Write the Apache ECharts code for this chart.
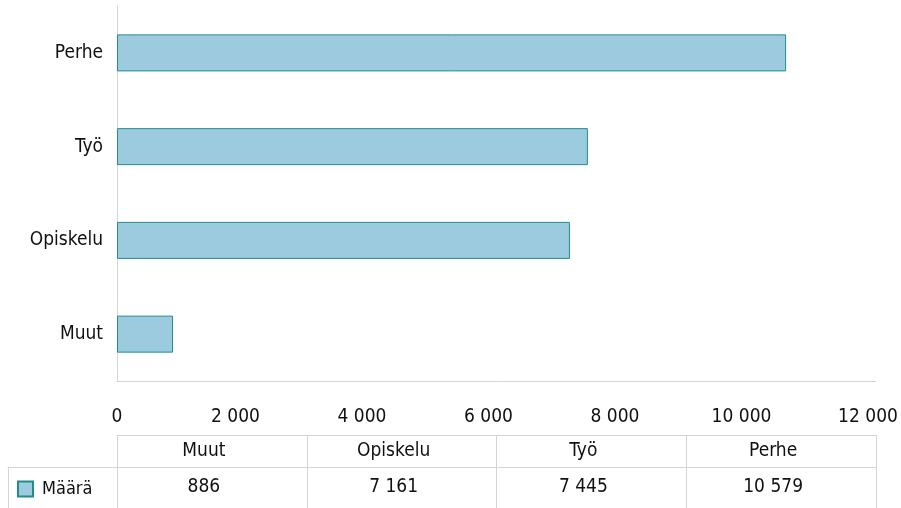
<!DOCTYPE html>
<html>
<head>
<meta charset="utf-8">
<script src="https://cdn.jsdelivr.net/npm/echarts@6/dist/echarts.min.js"></script>
<style>
html, body {margin:0; padding:0; background:#fff;}
#chart {width:901px; height:508px;}
</style>
</head>
<body>
<div id="chart"></div>
<script>
// data
var categories = ['Muut', 'Opiskelu', 'Työ', 'Perhe'];
var counts = [886, 7161, 7445, 10579];
var seriesName = 'Määrä';
var xMin = 0;
var xMax = 12000;
var xStep = 2000;

var FONT = "'DejaVu Sans Condensed', 'Liberation Sans Narrow', sans-serif";
var FS = 19;
var LINE = '#d4d4d4';
var TXT = '#111';

//thousands with a space: 10579 -> "10 579"
function fmt(v){
	return String(v).replace(/\B(?=(\d{3})+(?!\d))/g, ' ');
}
// small shift to the left, like the original labels
var richShift = {
	s: {padding: [0, 16, 0, 0], fontSize: FS, fontFamily: FONT, color: TXT}
};

var chart = echarts.init(document.getElementById('chart'));

var option = {
	animation: false,
	backgroundColor: '#fff',
	textStyle: {fontFamily: FONT},
	legend: {
		data: [seriesName],
		left: 17,
		top: 480,
		padding: 0,
		icon: 'rect',
		itemWidth: 15,
		itemHeight: 15,
		itemGap: 5,
		selectedMode: false,
		textStyle: {fontSize: 18, fontFamily: FONT, color: TXT, padding: [0, 0, 0, 4]}
	},
	grid: [
		{left: 117, right: 25, top: 6, height: 375, outerBoundsMode: 'none', containLabel: false},  //bars
		{left: 117, right: 25, top: 435, height: 32, outerBoundsMode: 'none', containLabel: false},  //table header
		{left: 117, right: 25, top: 467, height: 80, outerBoundsMode: 'none', containLabel: false},  //table values
		{left: 8, width: 109, top: 467, height: 80, outerBoundsMode: 'none', containLabel: false}    //legend cell
	],
	xAxis: [
		{
			gridIndex: 0,
			type: 'value',
			min: xMin,
			max: xMax,
			interval: xStep,
			axisLine: {show: true, onZero: false, lineStyle: {color: LINE, width: 1}},
			axisTick: {show: false},
			splitLine: {show: false},
			axisLabel: {
				margin: 27,
				fontSize: FS,
				fontFamily: FONT,
				color: TXT,
				formatter: function(v){
					return v === 0 ? '0' : '{s|' + fmt(v) + '}';
				},
				rich: richShift
			}
		},
		{
			gridIndex: 1,
			type: 'category',
			data: categories,
			position: 'top',
			boundaryGap: true,
			axisLine: {show: true, onZero: false, lineStyle: {color: LINE, width: 1}},
			axisTick: {show: false},
			splitLine: {show: true, lineStyle: {color: LINE, width: 1}},
			axisLabel: {
				inside: true,
				margin: 7,
				interval: 0,
				fontSize: FS,
				fontFamily: FONT,
				color: TXT,
				formatter: function(v){ return '{s|' + v + '}'; },
				rich: richShift
			}
		},
		{
			gridIndex: 2,
			type: 'category',
			data: categories,
			position: 'top',
			boundaryGap: true,
			axisLine: {show: true, onZero: false, lineStyle: {color: LINE, width: 1}},
			axisTick: {show: false},
			splitLine: {show: true, lineStyle: {color: LINE, width: 1}},
			axisLabel: {
				inside: true,
				margin: 11,
				interval: 0,
				fontSize: FS,
				fontFamily: FONT,
				color: TXT,
				formatter: function(v, i){ return '{s|' + fmt(counts[i]) + '}'; },
				rich: richShift
			}
		},
		{
			gridIndex: 3,
			type: 'value',
			position: 'top',
			min: 0,
			max: 1,
			axisLine: {show: true, onZero: false, lineStyle: {color: LINE, width: 1}},
			axisTick: {show: false},
			axisLabel: {show: false},
			splitLine: {show: false}
		}
	],
	yAxis: [
		{
			gridIndex: 0,
			type: 'category',
			data: categories,
			axisLine: {show: true, onZero: false, lineStyle: {color: LINE, width: 1}},
			axisTick: {show: false},
			axisLabel: {margin: 14, fontSize: FS, fontFamily: FONT, color: TXT}
		},
		{gridIndex: 1, type: 'value', min: 0, max: 1, show: false},
		{gridIndex: 2, type: 'value', min: 0, max: 1, show: false},
		{
			gridIndex: 3,
			type: 'value',
			min: 0,
			max: 1,
			axisLine: {show: true, onZero: false, lineStyle: {color: LINE, width: 1}},
			axisTick: {show: false},
			axisLabel: {show: false},
			splitLine: {show: false}
		}
	],
	series: [{
		name: seriesName,
		type: 'bar',
		xAxisIndex: 0,
		yAxisIndex: 0,
		data: counts,
		barWidth: 37,
		itemStyle: {
			color: '#9ccbdf',
			borderColor: '#1f8e8b',
			borderWidth: 1
		}
	}]
};

chart.setOption(option);
</script>
</body>
</html>
